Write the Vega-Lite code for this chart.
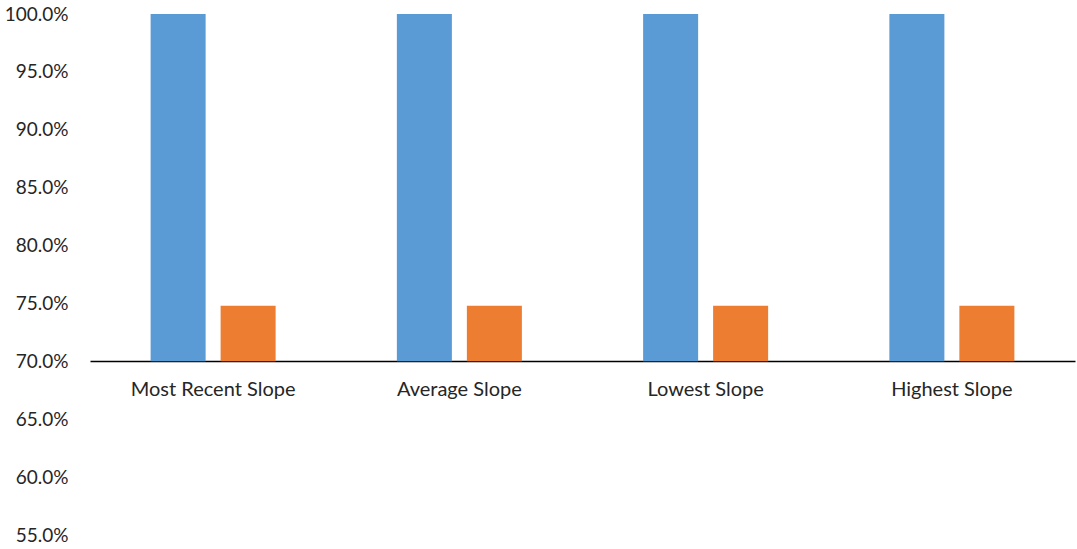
{
  "$schema": "https://vega.github.io/schema/vega-lite/v6.json",
  "width": 985,
  "height": 521,
  "autosize": {"type": "none"},
  "padding": {"left": 90, "top": 14, "right": 2, "bottom": 14},
  "background": "white",
  "config": {"view": {"stroke": null}, "font": "Lato"},
  "data": {
    "values": [
      {"category": "Most Recent Slope", "series": "Series1", "value": 1.0},
      {"category": "Most Recent Slope", "series": "Series2", "value": 0.748},
      {"category": "Average Slope", "series": "Series1", "value": 1.0},
      {"category": "Average Slope", "series": "Series2", "value": 0.748},
      {"category": "Lowest Slope", "series": "Series1", "value": 1.0},
      {"category": "Lowest Slope", "series": "Series2", "value": 0.748},
      {"category": "Highest Slope", "series": "Series1", "value": 1.0},
      {"category": "Highest Slope", "series": "Series2", "value": 0.748}
    ]
  },
  "mark": {"type": "bar"},
  "encoding": {
    "x": {
      "field": "category",
      "type": "nominal",
      "sort": null,
      "scale": {"paddingInner": 0, "paddingOuter": 0},
      "axis": {
        "title": null,
        "labelAngle": 0,
        "offset": -174,
        "ticks": false,
        "labelPadding": 18,
        "labelFontSize": 20,
        "labelColor": "#262626",
        "domainColor": "#000000",
        "domainWidth": 1.3
      }
    },
    "xOffset": {
      "field": "series",
      "type": "nominal",
      "scale": {"paddingInner": 0.214, "paddingOuter": 0.866}
    },
    "y": {
      "field": "value",
      "type": "quantitative",
      "scale": {"domain": [0.55, 1.0], "nice": false, "zero": false},
      "axis": {
        "title": null,
        "format": ".1%",
        "values": [0.55, 0.6, 0.65, 0.7, 0.75, 0.8, 0.85, 0.9, 0.95, 1.0],
        "grid": false,
        "domain": false,
        "ticks": false,
        "labelPadding": 22,
        "labelFontSize": 19,
        "labelColor": "#262626"
      }
    },
    "y2": {"datum": 0.7},
    "color": {
      "field": "series",
      "type": "nominal",
      "scale": {"domain": ["Series1", "Series2"], "range": ["#5B9BD5", "#ED7D31"]},
      "legend": null
    }
  }
}
